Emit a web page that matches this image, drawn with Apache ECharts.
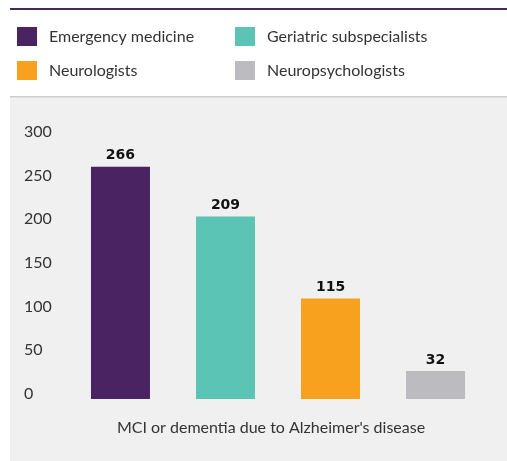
<!DOCTYPE html>
<html>
<head>
<meta charset="utf-8">
<style>
  html, body { margin: 0; padding: 0; background: #fff; }
  #chart { width: 507px; height: 461px; }
</style>
<script src="https://cdn.jsdelivr.net/npm/echarts@6/dist/echarts.min.js"></script>
</head>
<body>
<div id="chart"></div>
<script>
const categories = ["MCI or dementia due to Alzheimer's disease"]
const seriesNames = ['Emergency medicine', 'Geriatric subspecialists', 'Neurologists', 'Neuropsychologists']
const seriesValues = [266, 209, 115, 32]
const seriesColors = ['#4a2362', '#5bc4b5', '#f7a11f', '#bcbcc0']
const yTicks = [0, 50, 100, 150, 200, 250, 300]

const chart = echarts.init(document.getElementById('chart'))

const legendText = {
  fontFamily: 'Lato',
  fontSize: 16,
  color: '#333',
  padding: [0, 0, 0, 7]
}

chart.setOption({
  backgroundColor: '#fff',
  animation: false,
  graphic: [
    // purple rule across the top
    { type: 'rect', shape: { x: 10, y: 8, width: 497, height: 2 }, style: { fill: '#4b2462' }, z: -1 },
    // grey panel behind the plot
    { type: 'rect', shape: { x: 10, y: 97, width: 497, height: 364 }, style: { fill: '#f0f0f0' }, z: -2 },
    { type: 'rect', shape: { x: 10, y: 96, width: 497, height: 1.5 }, style: { fill: '#cdcdcd' }, z: -1 }
  ],
  legend: [{
    data: [seriesNames[0], seriesNames[2]],
    orient: 'vertical',
    left: 17,
    top: 27,
    padding: 0,
    itemWidth: 20,
    itemHeight: 19,
    itemGap: 15,
    icon: 'rect',
    selectedMode: false,
    textStyle: legendText
  }, {
    data: [seriesNames[1], seriesNames[3]],
    orient: 'vertical',
    left: 235,
    top: 27,
    padding: 0,
    itemWidth: 20,
    itemHeight: 19,
    itemGap: 15,
    icon: 'rect',
    selectedMode: false,
    textStyle: legendText
  }],
  grid: {
    left: 60,
    right: 11,
    top: 137,
    bottom: 62
  },
  xAxis: {
    type: 'category',
    data: categories,
    axisLine: { show: false },
    axisTick: { show: false },
    axisLabel: {
      margin: 21,
      fontFamily: 'Lato',
      fontSize: 16,
      color: '#333',
      padding: [0, 14, 0, 0]
    }
  },
  yAxis: {
    type: 'value',
    min: yTicks[0],
    max: yTicks[yTicks.length - 1],
    interval: 50,
    splitLine: { show: false },
    axisLine: { show: false },
    axisTick: { show: false },
    axisLabel: {
      align: 'left',
      verticalAlign: 'bottom',
      lineHeight: 10,
      margin: 36,
      fontFamily: 'Lato',
      fontSize: 16,
      color: '#333'
    }
  },
  series: seriesNames.map(function(name, i) {
    return {
      name: name,
      type: 'bar',
      data: [seriesValues[i]],
      barWidth: 59,
      barGap: '78%',
      itemStyle: { color: seriesColors[i] },
      label: {
        show: true,
        position: 'top',
        distance: 4,
        fontFamily: 'DejaVu Sans',
        fontWeight: 'bold',
        fontSize: 14,
        color: '#111'
      }
    }
  })
})
</script>
</body>
</html>
